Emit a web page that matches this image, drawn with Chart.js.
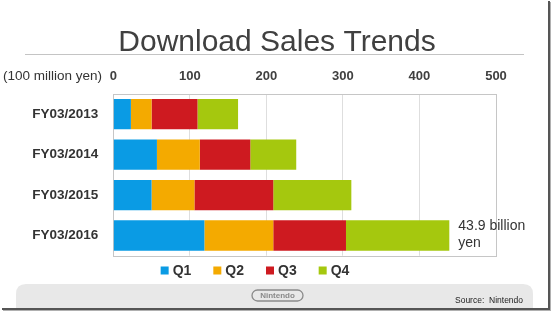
<!DOCTYPE html>
<html><head><meta charset="utf-8">
<script src="https://cdn.jsdelivr.net/npm/chart.js@4/dist/chart.umd.min.js"></script>
<style>html,body{margin:0;padding:0;background:#fff;overflow:hidden}#wrap{position:relative;width:554px;height:313px}</style>
</head><body><div id="wrap"><canvas id="c" width="554" height="313"></canvas></div>
<script>
const categories = ['FY03/2013', 'FY03/2014', 'FY03/2015', 'FY03/2016'];
const seriesNames = ['Q1', 'Q2', 'Q3', 'Q4'];
const q1 = [23, 57, 50, 119];
const q2 = [27, 56, 56, 90];
const q3 = [60, 66, 103, 95];
const q4 = [53, 60, 102, 135];
const xTicks = [0, 100, 200, 300, 400, 500];
const titleText = 'Download Sales Trends';
const unitLabel = '(100 million yen)';
const totalNote = ['43.9 billion', 'yen'];
const sourceText = 'Source:  Nintendo';
const logoText = 'Nintendo';
const colors = ['#0a9be4', '#f4aa00', '#ce1a20', '#a5c80e'];

const seriesValues = [q1, q2, q3, q4];
const FONT = '"Liberation Sans", Arial, sans-serif';

const decor = {
  id: 'decor',
  beforeDraw(chart) {
    const ctx = chart.ctx;
    ctx.save();
    ctx.fillStyle = '#ffffff';
    ctx.fillRect(0, 0, chart.width, chart.height);
    // title
    ctx.fillStyle = '#404040';
    ctx.font = '30px ' + FONT;
    ctx.textAlign = 'center';
    ctx.textBaseline = 'alphabetic';
    ctx.fillText(titleText, 277, 51);
    // underline
    ctx.strokeStyle = '#c4c4c4';
    ctx.lineWidth = 1;
    ctx.beginPath();
    ctx.moveTo(25, 54.5);
    ctx.lineTo(524, 54.5);
    ctx.stroke();
    // unit label
    ctx.fillStyle = '#333333';
    ctx.font = '13.5px ' + FONT;
    ctx.textAlign = 'left';
    ctx.textBaseline = 'middle';
    ctx.fillText(unitLabel, 3, 76);
    // footer band
    ctx.fillStyle = '#e8e8e8';
    const fx = 16, fy = 284, fw = 517, fh = 24, r = 10;
    ctx.beginPath();
    ctx.moveTo(fx, fy + fh);
    ctx.lineTo(fx, fy + r);
    ctx.quadraticCurveTo(fx, fy, fx + r, fy);
    ctx.lineTo(fx + fw - r, fy);
    ctx.quadraticCurveTo(fx + fw, fy, fx + fw, fy + r);
    ctx.lineTo(fx + fw, fy + fh);
    ctx.closePath();
    ctx.fill();
    // logo
    ctx.strokeStyle = '#8a8a8a';
    ctx.lineWidth = 1.3;
    ctx.beginPath();
    const lx = 252, ly = 290, lw = 51, lh = 11, lr = 5.5;
    ctx.moveTo(lx + lr, ly);
    ctx.lineTo(lx + lw - lr, ly);
    ctx.arc(lx + lw - lr, ly + lr, lr, -Math.PI / 2, Math.PI / 2);
    ctx.lineTo(lx + lr, ly + lh);
    ctx.arc(lx + lr, ly + lr, lr, Math.PI / 2, Math.PI * 1.5);
    ctx.stroke();
    ctx.fillStyle = '#8a8a8a';
    ctx.font = 'bold 8px ' + FONT;
    ctx.textAlign = 'center';
    ctx.fillText(logoText, lx + lw / 2, ly + lh / 2 + 0.5);
    // source
    ctx.fillStyle = '#222222';
    ctx.font = '8.5px ' + FONT;
    ctx.textAlign = 'left';
    ctx.fillText(sourceText, 455, 301);
    // frame shadow lines
    ctx.fillStyle = '#555555';
    ctx.fillRect(548, 1, 2, 309);
    ctx.fillRect(2, 308, 548, 2);
    ctx.fillStyle = '#b0b0b0';
    ctx.fillRect(550, 2, 1, 309);
    ctx.fillRect(3, 310, 548, 1);
    ctx.restore();
  },
  beforeDatasetsDraw(chart) {
    const ctx = chart.ctx, a = chart.chartArea;
    ctx.save();
    ctx.strokeStyle = '#c6c6c6';
    ctx.lineWidth = 1;
    ctx.strokeRect(Math.round(a.left) + 0.5, Math.round(a.top) + 0.5, Math.round(a.right - a.left), Math.round(a.bottom - a.top));
    ctx.restore();
  },
  afterDatasetsDraw(chart) {
    const ctx = chart.ctx;
    const xs = chart.scales.x, ys = chart.scales.y;
    const last = categories.length - 1;
    let total = 0;
    seriesValues.forEach(s => total += s[last]);
    const x = xs.getPixelForValue(total) + 9;
    const cy = ys.getPixelForValue(last);
    ctx.save();
    ctx.fillStyle = '#333333';
    ctx.font = '14px ' + FONT;
    ctx.textAlign = 'left';
    ctx.textBaseline = 'middle';
    ctx.fillText(totalNote[0], x, cy - 9);
    ctx.fillText(totalNote[1], x, cy + 8);
    // legend
    ctx.font = 'bold 14px ' + FONT;
    const box = 8, gap = 4, spacing = 22;
    const widths = seriesNames.map(n => box + gap + ctx.measureText(n).width);
    const totalW = widths.reduce((p, w) => p + w, 0) + spacing * (widths.length - 1);
    let lx = 255 - totalW / 2;
    const ly = 270.5;
    chart.data.datasets.forEach((ds, i) => {
      ctx.fillStyle = ds.backgroundColor;
      ctx.fillRect(lx, ly - box / 2, box, box);
      ctx.fillStyle = '#333333';
      ctx.fillText(ds.label, lx + box + gap, ly + 0.5);
      lx += widths[i] + spacing;
    });
    ctx.restore();
  }
};

new Chart(document.getElementById('c'), {
  type: 'bar',
  data: {
    labels: categories,
    datasets: seriesNames.map((n, i) => ({
      label: n,
      data: seriesValues[i],
      backgroundColor: colors[i],
      borderWidth: 0,
      barPercentage: 0.75,
      categoryPercentage: 1.0
    }))
  },
  options: {
    indexAxis: 'y',
    responsive: false,
    animation: false,
    devicePixelRatio: 1,
    layout: { padding: { left: 19, right: 58, top: 63, bottom: 57.3 } },
    plugins: { legend: { display: false }, title: { display: false }, tooltip: { enabled: false } },
    scales: {
      x: {
        position: 'top',
        stacked: true,
        min: xTicks[0],
        max: xTicks[xTicks.length - 1],
        afterBuildTicks: s => { s.ticks = xTicks.map(v => ({ value: v })); },
        afterFit: s => { s.height = 31; },
        ticks: { color: '#404040', font: { family: FONT, size: 13, weight: 'bold' }, padding: 10 },
        grid: { color: '#dedede', drawTicks: false },
        border: { display: false }
      },
      y: {
        stacked: true,
        afterFit: s => { s.width = 94.3; },
        ticks: { color: '#333333', font: { family: FONT, size: 13.5, weight: 'bold' }, padding: 15 },
        grid: { display: false, drawTicks: false },
        border: { display: false }
      }
    }
  },
  plugins: [decor]
});
</script></body></html>
